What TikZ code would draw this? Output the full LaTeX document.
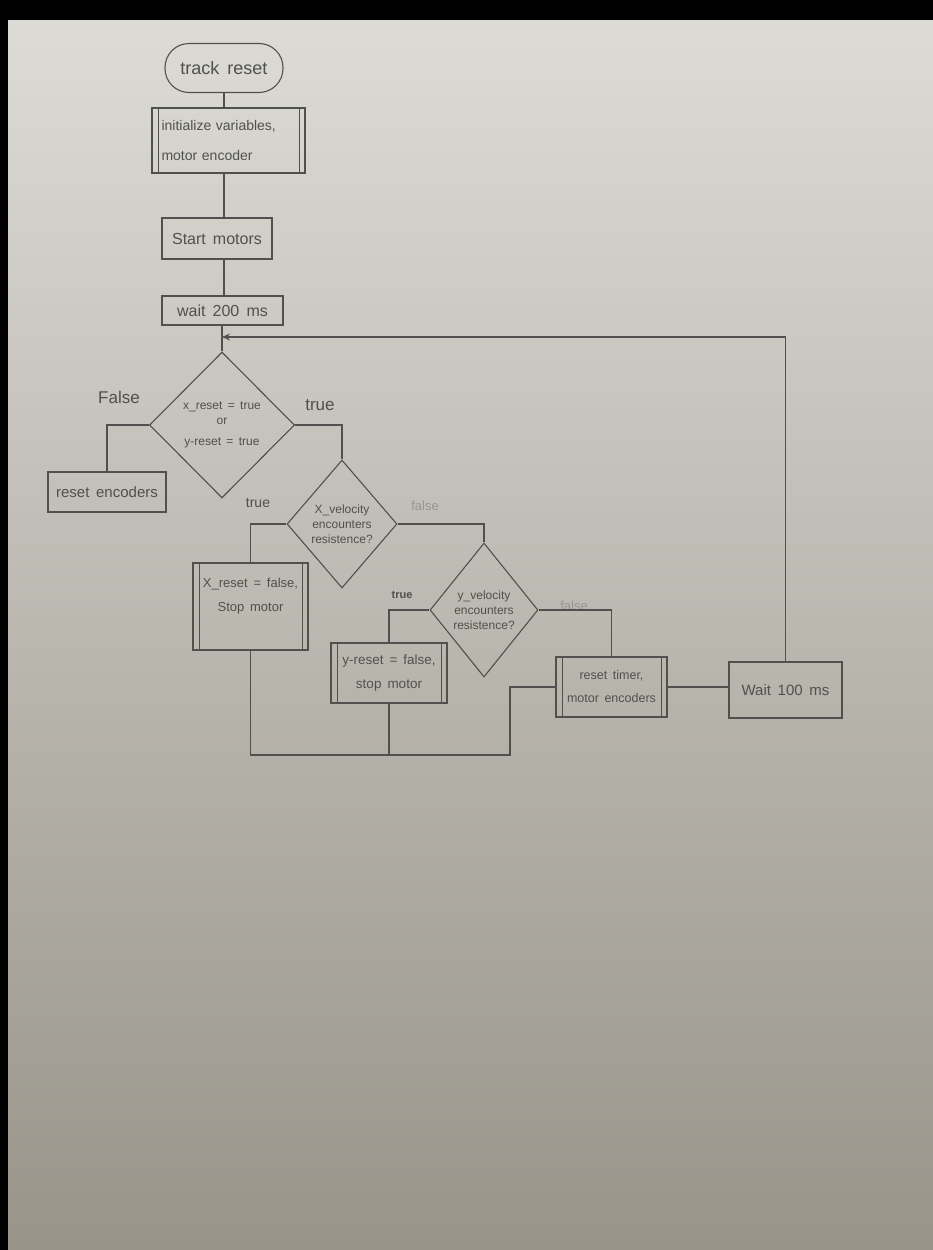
\documentclass[tikz,border=0pt]{standalone}
\usepackage{fontspec}
\setmainfont[WordSpace=1.6]{Liberation Sans}
\usetikzlibrary{shapes.geometric,arrows.meta}

\definecolor{paperTop}{RGB}{222,220,215}
\definecolor{paperMid}{RGB}{202,200,193}
\definecolor{paperBot}{RGB}{152,148,138}
\definecolor{pencil}{RGB}{80,80,78}
\definecolor{faint}{RGB}{150,150,146}

\tikzset{
  flow/.style={draw=pencil, line width=1.1pt, text=pencil, inner sep=0pt,
    font=\fontsize{15}{19}\selectfont, align=center},
  terminal/.style={flow, rectangle, rounded corners=24pt},
  stepbox/.style={flow, rectangle},
  subproc/.style={flow, rectangle,
    path picture={
      \draw[pencil, line width=1pt]
        ([xshift=6pt]path picture bounding box.north west) --
        ([xshift=6pt]path picture bounding box.south west)
        ([xshift=-6pt]path picture bounding box.north east) --
        ([xshift=-6pt]path picture bounding box.south east);}},
  decision/.style={flow, diamond, font=\fontsize{12}{15}\selectfont},
  wire/.style={draw=pencil, line width=1.1pt},
  branch/.style={text=pencil, font=\fontsize{14}{16}\selectfont},
  ghost/.style={text=faint, font=\fontsize{13}{15}\selectfont},
}

\begin{document}
\begin{tikzpicture}[x=1pt, y=-1pt]
  % paper and the dark surround of the photo
  \useasboundingbox (0,0) rectangle (933,1250);
  \shade[top color=paperTop, middle color=paperMid, bottom color=paperBot]
    (0,0) rectangle (933,1250);
  \fill[black] (0,0) rectangle (933,20);
  \fill[black] (0,0) rectangle (8,1250);

  % main column
  \node[terminal, minimum width=118pt, minimum height=49pt,
        font=\fontsize{18}{20}\selectfont] (start) at (224,68) {track reset};
  \node[subproc, minimum width=153pt, minimum height=65pt, align=left,
        text width=134pt, font=\fontsize{14}{30}\selectfont] (init) at (228.5,140.5)
        {initialize variables,\\ motor encoder};
  \node[stepbox, minimum width=110pt, minimum height=41pt,
        font=\fontsize{16}{19}\selectfont] (startm) at (217,238.5) {Start motors};
  \node[stepbox, minimum width=121pt, minimum height=29pt,
        font=\fontsize{16}{19}\selectfont] (wait2) at (222.5,310.5) {wait 200 ms};

  % decisions
  \node[decision, minimum width=145pt, minimum height=146pt] (d1) at (222,425)
        {x\_reset = true\\ or\\[6pt] y-reset = true};
  \node[decision, minimum width=110pt, minimum height=128pt] (d2) at (342,524)
        {X\_velocity\\ encounters\\ resistence?};
  \node[decision, minimum width=108pt, minimum height=134pt] (d3) at (484,610)
        {y\_velocity\\ encounters\\ resistence?};

  % actions
  \node[stepbox, minimum width=118pt, minimum height=40pt] (renc) at (107,492) {reset encoders};
  \node[subproc, minimum width=115pt, minimum height=87pt,
        font=\fontsize{13}{24}\selectfont] (xres) at (250.5,606.5)
        {X\_reset = false,\\ Stop motor\\ \mbox{}};
  \node[subproc, minimum width=116pt, minimum height=60pt,
        font=\fontsize{13.5}{24}\selectfont] (yres) at (389,673)
        {y-reset = false,\\ stop motor};
  \node[subproc, minimum width=111pt, minimum height=60pt,
        font=\fontsize{12.5}{23}\selectfont] (rt) at (611.5,687)
        {reset timer,\\ motor encoders};
  \node[stepbox, minimum width=113pt, minimum height=56pt] (w100) at (785.5,690) {Wait 100 ms};

  % branch labels
  \node[branch, font=\fontsize{17}{19}\selectfont] (lf1) at (119,397) {False};
  \node[branch, font=\fontsize{17}{19}\selectfont] (lt1) at (320,405) {true};
  \node[branch] (lt2) at (258,503) {true};
  \node[ghost] (lf2) at (425,506) {false};
  \node[branch, font=\bfseries\fontsize{11}{13}\selectfont] (lt3) at (402,595) {true};
  \node[ghost] (lf3) at (574,606) {false};

  % connectors down the main column
  \draw[wire] (start.south) -- (start.south |- init.north);
  \draw[wire] (init.south -| start.south) -- (start.south |- startm.north);
  \draw[wire] (startm.south -| start.south) -- (start.south |- wait2.north);
  \draw[wire] (wait2.south -| d1.north) -- (d1.north);
  \coordinate (loopin) at (d1.north |- 0,337);
  \draw[wire, -{Stealth[length=8pt,width=7pt]}] (w100.north) |- (loopin);

  % decision branches
  \draw[wire] (d1.west) -| (renc.north);
  \draw[wire] (d1.east) -| (d2.north);
  \draw[wire] (d2.west) -| (xres.north);
  \draw[wire] (d2.east) -| (d3.north);
  \draw[wire] (d3.west) -| (yres.north);
  \draw[wire] (d3.east) -| (rt.north);

  % merge into the timer reset, then wait and loop back
  \coordinate (jl) at (xres.south |- 0,755);
  \coordinate (jr) at (510,755);
  \draw[wire] (xres.south) -- (jl) -- (jr) |- (rt.west);
  \draw[wire] (yres.south) -- (yres.south |- jl);
  \draw[wire] (rt.east) -- (rt.east -| w100.west);
\end{tikzpicture}
\end{document}
